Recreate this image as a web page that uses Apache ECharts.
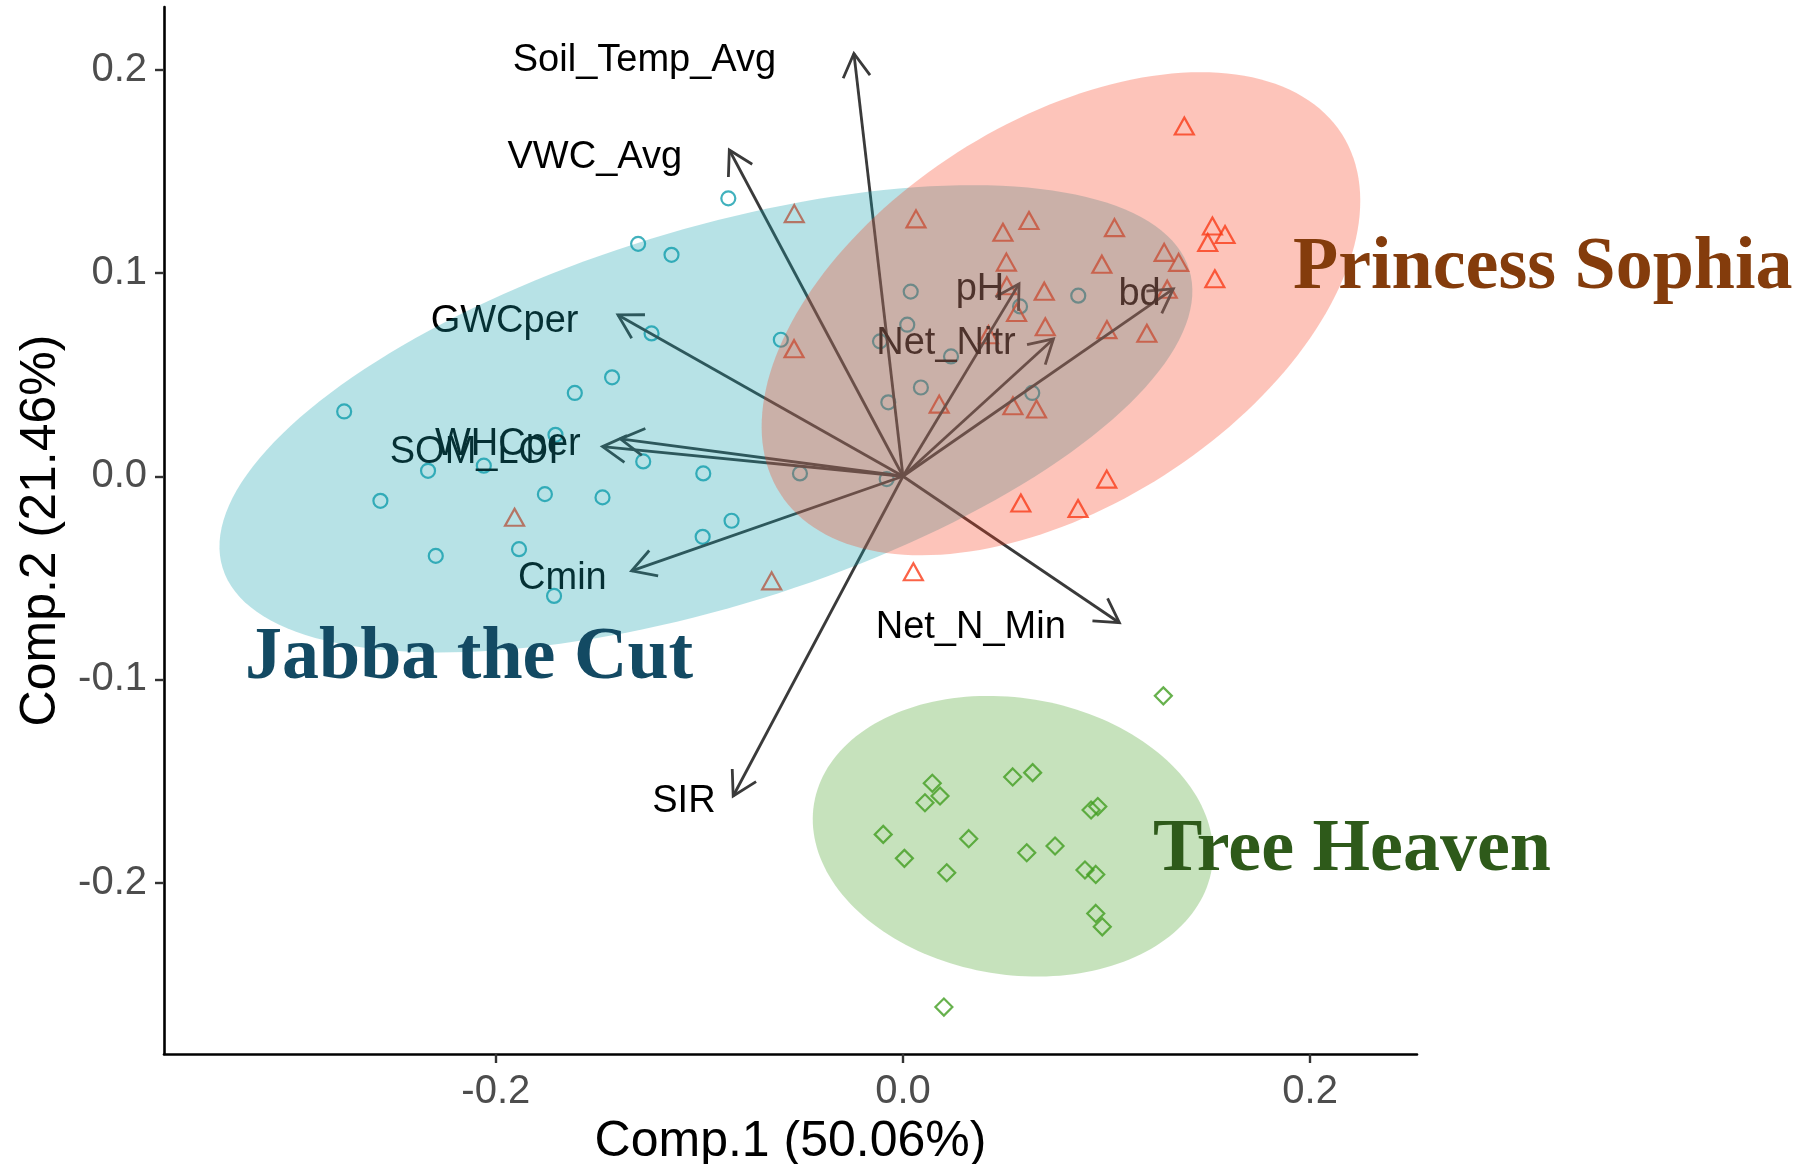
<!DOCTYPE html>
<html>
<head>
<meta charset="utf-8">
<script src="https://cdn.jsdelivr.net/npm/echarts@6/dist/echarts.min.js"></script>
<style>
  html, body { margin: 0; padding: 0; background: #ffffff; }
  #chart { width: 1813px; height: 1164px; }
</style>
</head>
<body>
<div id="chart"></div>
<script>
// PCA biplot of soil properties: site scores, 95% ellipses per site, variable loadings

const groupNames = ['Jabba the Cut', 'Princess Sophia', 'Tree Heaven'];

// Site scores [Comp.1, Comp.2]
const jabbaScores = [
  [-0.2745, 0.0319], [-0.2567, -0.0121], [-0.2333, 0.0027], [-0.2295, -0.0392],
  [-0.2059, 0.0052], [-0.1886, -0.0359], [-0.1759, -0.0088], [-0.1714, -0.0589],
  [-0.1707, 0.0204], [-0.1612, 0.0410], [-0.1476, -0.0104], [-0.1429, 0.0487],
  [-0.1301, 0.1144], [-0.1235, 0.0703], [-0.1276, 0.0073], [-0.1137, 0.1090],
  [-0.0981, 0.0014], [-0.0984, -0.0298], [-0.0842, -0.0219], [-0.0858, 0.1368],
  [-0.0600, 0.0672], [-0.0506, 0.0014], [-0.0080, -0.0014], [0.0038, 0.0909],
  [0.0021, 0.0746], [-0.0113, 0.0664], [-0.0072, 0.0364], [0.0088, 0.0437],
  [0.0236, 0.0590], [0.0575, 0.0836], [0.0635, 0.0410], [0.0861, 0.0889]
];
const sophiaScores = [
  [0.1382, 0.1724], [-0.0534, 0.1293], [0.0064, 0.1267], [0.0619, 0.1259],
  [0.0491, 0.1201], [0.1039, 0.1224], [0.1520, 0.1232], [0.1582, 0.1190],
  [0.1497, 0.1151], [0.1283, 0.1102], [0.1354, 0.1053], [0.0508, 0.1054],
  [0.0977, 0.1044], [0.0510, 0.0938], [0.0694, 0.0911], [0.1298, 0.0921],
  [0.1532, 0.0972], [0.0558, 0.0806], [0.0699, 0.0736], [0.1002, 0.0722],
  [0.1198, 0.0704], [0.0420, 0.0697], [-0.0535, 0.0628], [0.0178, 0.0355],
  [0.0540, 0.0347], [0.0656, 0.0331], [0.1001, -0.0014], [0.0579, -0.0132],
  [0.0860, -0.0159], [0.0051, -0.0470], [-0.0645, -0.0515], [-0.1908, -0.0202]
];
const heavenScores = [
  [0.1279, -0.1081], [0.0144, -0.1511], [0.0182, -0.1574], [0.0108, -0.1607],
  [0.0539, -0.1480], [0.0637, -0.1459], [0.0924, -0.1643], [0.0957, -0.1626],
  [-0.0097, -0.1763], [0.0323, -0.1784], [0.0007, -0.1881], [0.0215, -0.1952],
  [0.0608, -0.1853], [0.0747, -0.1820], [0.0894, -0.1938], [0.0947, -0.1960],
  [0.0947, -0.2152], [0.0979, -0.2218], [0.0201, -0.2613]
];

// Normal-theory ellipses per site: centre, semi-axes, orientation (degrees)
const ellipseCentre = [[-0.0968, 0.0283], [0.0776, 0.0800], [0.0540, -0.1772]];
const ellipseAxes = [[0.2485, 0.0926], [0.1639, 0.0943], [0.0990, 0.0681]];
const ellipseAngle = [17.2, 32.7, -9.3];

// Variable loadings (arrow tips) and label anchors
const loadingNames = ['Soil_Temp_Avg', 'VWC_Avg', 'GWCper', 'SOM_LOI', 'WHCper', 'Cmin', 'SIR', 'Net_N_Min', 'pH', 'Net_Nitr', 'bd'];
const loadingComp1 = [-0.0241, -0.0853, -0.1400, -0.1476, -0.1388, -0.1333, -0.0834, 0.1063, 0.0570, 0.0739, 0.1328];
const loadingComp2 = [0.2081, 0.1606, 0.0794, 0.0146, 0.0184, -0.0466, -0.1574, -0.0721, 0.0947, 0.0676, 0.0922];
const labelComp1 = [-0.1270, -0.1514, -0.1957, -0.2106, -0.1941, -0.1673, -0.1076, 0.0333, 0.0378, 0.0211, 0.1162];
const labelComp2 = [0.2048, 0.1568, 0.0761, 0.0119, 0.0154, -0.0501, -0.1600, -0.0743, 0.0917, 0.0651, 0.0893];

const xTicks = [-0.2, 0, 0.2];
const yTicks = [-0.2, -0.1, 0, 0.1, 0.2];

const groupColors = ['#129EAC', '#FA3C19', '#419E20'];
const ellipseFills = ['rgba(18,158,172,0.3)', 'rgba(250,60,25,0.3)', 'rgba(65,158,32,0.3)'];
const labelColors = ['#134A63', '#843C0C', '#2E5A1A'];

const sans = '"Liberation Sans", Arial, sans-serif';
const serif = '"Liberation Serif", "Times New Roman", serif';

function fmtTick(v) {
  return (Math.abs(v) < 1e-9 ? 0 : v).toFixed(1);
}

function ellipseSeries(k) {
  return {
    type: 'custom',
    z: 6 + k,
    silent: true,
    data: [ellipseCentre[k]],
    renderItem: function (params, api) {
      const c = ellipseCentre[k], ax = ellipseAxes[k];
      const th = ellipseAngle[k] * Math.PI / 180;
      const pts = [];
      const n = 180;
      for (let j = 0; j < n; j++) {
        const t = 2 * Math.PI * j / n;
        const ex = ax[0] * Math.cos(t), ey = ax[1] * Math.sin(t);
        pts.push(api.coord([c[0] + ex * Math.cos(th) - ey * Math.sin(th),
                            c[1] + ex * Math.sin(th) + ey * Math.cos(th)]));
      }
      return { type: 'polygon', shape: { points: pts }, style: { fill: ellipseFills[k], stroke: null } };
    }
  };
}

const arrowColor = '#3a3a3a';

const option = {
  animation: false,
  backgroundColor: '#ffffff',
  grid: { left: 164, top: 7, width: 1253, height: 1047, containLabel: false, outerBoundsMode: 'none' },
  xAxis: {
    type: 'value', min: -0.363, max: 0.2525,
    name: 'Comp.1 (50.06%)', nameLocation: 'middle', nameGap: 63,
    nameTextStyle: { fontSize: 50, color: '#000000', fontFamily: sans },
    axisLine: { show: true, onZero: false, lineStyle: { color: '#000000', width: 2.6 } },
    axisTick: { show: true, customValues: xTicks, length: 9, lineStyle: { color: '#333333', width: 2.4 } },
    axisLabel: { show: true, customValues: xTicks, formatter: fmtTick, margin: 18, fontSize: 40, color: '#4d4d4d', fontFamily: sans },
    splitLine: { show: false }
  },
  yAxis: {
    type: 'value', min: -0.2844, max: 0.2310,
    name: 'Comp.2 (21.46%)', nameLocation: 'middle', nameGap: 98, nameRotate: 90,
    nameTextStyle: { fontSize: 50, color: '#000000', fontFamily: sans },
    axisLine: { show: true, onZero: false, lineStyle: { color: '#000000', width: 2.6 } },
    axisTick: { show: true, customValues: yTicks, length: 9, lineStyle: { color: '#333333', width: 2.4 } },
    axisLabel: { show: true, customValues: yTicks, formatter: fmtTick, margin: 17, fontSize: 40, color: '#4d4d4d', fontFamily: sans, padding: [10, 0, 0, 0] },
    splitLine: { show: false }
  },
  series: [
    {
      name: groupNames[0], type: 'scatter', z: 2, silent: true,
      symbol: 'circle', symbolSize: 14, data: jabbaScores,
      itemStyle: { color: 'rgba(0,0,0,0)', borderColor: groupColors[0], borderWidth: 2.2 }
    },
    {
      name: groupNames[1], type: 'scatter', z: 2, silent: true,
      symbol: 'triangle', symbolSize: [19, 17], data: sophiaScores,
      itemStyle: { color: 'rgba(0,0,0,0)', borderColor: groupColors[1], borderWidth: 2.2 }
    },
    {
      name: groupNames[2], type: 'scatter', z: 2, silent: true,
      symbol: 'diamond', symbolSize: 17, data: heavenScores,
      itemStyle: { color: 'rgba(0,0,0,0)', borderColor: groupColors[2], borderWidth: 2.2 }
    },
    {
      // loading arrows from the origin
      type: 'custom', z: 3, silent: true,
      data: loadingComp1.map((x, i) => [x, loadingComp2[i]]),
      renderItem: function (params, api) {
        const o = api.coord([0, 0]);
        const t = api.coord([api.value(0), api.value(1)]);
        const ang = Math.atan2(t[1] - o[1], t[0] - o[0]);
        const L = 27, h = Math.PI / 6;
        const p1 = [t[0] - L * Math.cos(ang - h), t[1] - L * Math.sin(ang - h)];
        const p2 = [t[0] - L * Math.cos(ang + h), t[1] - L * Math.sin(ang + h)];
        return {
          type: 'group',
          children: [
            { type: 'line', shape: { x1: o[0], y1: o[1], x2: t[0], y2: t[1] },
              style: { stroke: arrowColor, lineWidth: 2.8 } },
            { type: 'polyline', shape: { points: [p1, t, p2] },
              style: { stroke: arrowColor, lineWidth: 2.8, fill: null } }
          ]
        };
      }
    },
    {
      // loading names
      type: 'custom', z: 4, silent: true,
      data: labelComp1.map((x, i) => [x, labelComp2[i]]),
      renderItem: function (params, api) {
        const p = api.coord([api.value(0), api.value(1)]);
        return {
          type: 'text', x: p[0], y: p[1],
          style: { text: loadingNames[params.dataIndex], fill: '#000000',
                   font: '38px ' + sans, align: 'center', verticalAlign: 'middle' }
        };
      }
    },
    ellipseSeries(0),
    ellipseSeries(1),
    ellipseSeries(2)
  ],
  graphic: [
    { type: 'text', z: 100, x: 1293, y: 269,
      style: { text: groupNames[1], font: 'bold 74px ' + serif, fill: labelColors[1], align: 'left', verticalAlign: 'middle' } },
    { type: 'text', z: 100, x: 245, y: 659,
      style: { text: groupNames[0], font: 'bold 74px ' + serif, fill: labelColors[0], align: 'left', verticalAlign: 'middle' } },
    { type: 'text', z: 100, x: 1153, y: 851,
      style: { text: groupNames[2], font: 'bold 74px ' + serif, fill: labelColors[2], align: 'left', verticalAlign: 'middle' } }
  ]
};

const chart = echarts.init(document.getElementById('chart'), null, { renderer: 'canvas' });
chart.setOption(option);
</script>
</body>
</html>
